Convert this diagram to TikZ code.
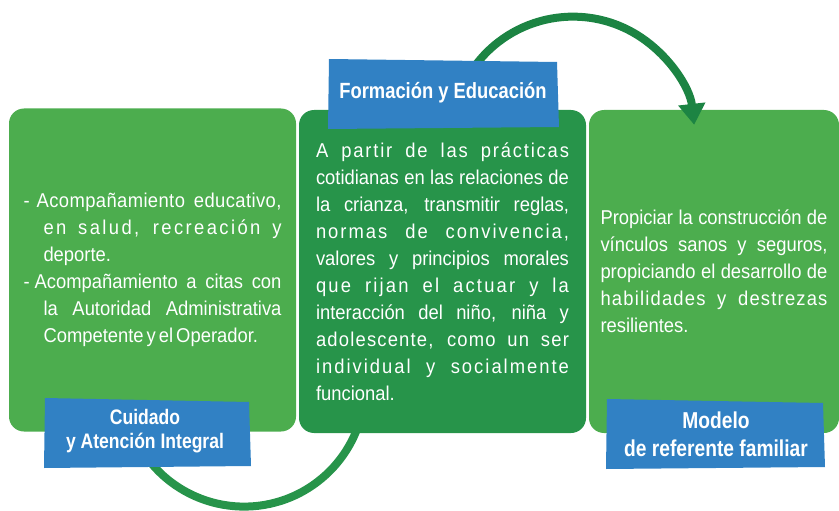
\documentclass[tikz,border=0pt]{standalone}
\usepackage{fontspec}
\setmainfont{Liberation Sans}[FakeStretch=0.92]
\newfontfamily\tagfont{Liberation Sans}[FakeStretch=0.835]
\usepackage{tikz}
\usetikzlibrary{arrows.meta}

\definecolor{lightgreen}{HTML}{4CAD4E}
\definecolor{darkgreen}{HTML}{27944A}
\definecolor{arcgreen}{HTML}{1C8443}
\definecolor{tagblue}{HTML}{3181C4}

% one justified line, one plain line, letter spacing
\newcommand{\jline}[2][0pt]{\noindent\hspace*{#1}\hbox to \dimexpr\hsize-#1\relax{\spaceskip=\fontdimen2\font plus 1fil\relax #2}\par}
\newcommand{\eline}[2][0pt]{\noindent\hspace*{#1}#2\par}
\newcommand{\spaced}[1]{\addfontfeature{LetterSpace=#1}}

\begin{document}
\begin{tikzpicture}[x=1pt,y=-1pt,
	panel/.style={rounded corners=15pt,minimum height=323pt,inner sep=0pt,text=white,font=\fontsize{20}{27}\selectfont},
	tagbox/.style={text=white,align=center,inner sep=0pt},
	arcline/.style={line width=8pt}]
		\useasboundingbox (0,0) rectangle (839,511);
		%
		% lower arc, behind the panels
		\coordinate (lowstart) at (145,455);
		\draw[arcline,darkgreen] (lowstart) arc[start angle=145,end angle=15,radius=121];
		%
		% panels
		\node[panel,fill=lightgreen,minimum width=287pt,text width=258pt] (cuidado) at (152.5,270) {%
			\jline{-\kern7pt{\spaced{2}Acompañamiento educativo,}}
			\jline[20pt]{\spaced{12}en salud, recreación y}
			\eline[20pt]{deporte.}
			\jline{-\kern5pt Acompañamiento a citas con}
			\jline[20pt]{la Autoridad Administrativa}
			\eline[20pt]{Competente\kern3pt y\kern3pt el\kern3pt Operador.}};
		\node[panel,fill=darkgreen,minimum width=287pt,text width=253pt] (formacion) at (442.5,271.5) {%
			\jline{\spaced{9}A partir de las prácticas}
			\jline{cotidianas en las relaciones de}
			\jline{la crianza, transmitir reglas,}
			\jline{\spaced{10}normas de convivencia,}
			\jline{valores y principios morales}
			\jline{\spaced{11}que rijan el actuar y la}
			\jline{interacción del niño, niña y}
			\jline{\spaced{6}adolescente, como un ser}
			\jline{\spaced{10}individual y socialmente}
			\eline{funcional.}};
		\node[panel,fill=lightgreen,minimum width=250pt,text width=227pt] (modelo) at (714,271.5) {%
			\jline{Propiciar la construcción de}
			\jline{vínculos sanos y seguros,}
			\jline{propiciando el desarrollo de}
			\jline{\spaced{6}habilidades y destrezas}
			\eline{resilientes.}};
		%
		% upper arc with arrow
		\coordinate (topstart) at (469.5,74);
		\draw[arcline,arcgreen,-{Triangle[length=21pt,width=26pt]}] (topstart) arc[start angle=212,end angle=353.5,radius=122];
		%
		% tags
		\fill[tagblue] (329,59) -- (557,62) -- (559,127) -- (328,129) -- cycle;
		\fill[tagblue] (45,398) -- (249,402) -- (251,466) -- (44,468) -- cycle;
		\fill[tagblue] (607,399) -- (823,403) -- (825,467) -- (606,469) -- cycle;
		\node[tagbox,font=\tagfont\bfseries\fontsize{22}{26}\selectfont] (formaciontag) at (443,93) {Formación y Educación};
		\node[tagbox,font=\tagfont\bfseries\fontsize{21}{24}\selectfont] (cuidadotag) at (145,431) {Cuidado\\y Atención Integral};
		\node[tagbox,font=\tagfont\bfseries\fontsize{23}{28}\selectfont] (modelotag) at (716,434) {Modelo\\de referente familiar};
\end{tikzpicture}
\end{document}
